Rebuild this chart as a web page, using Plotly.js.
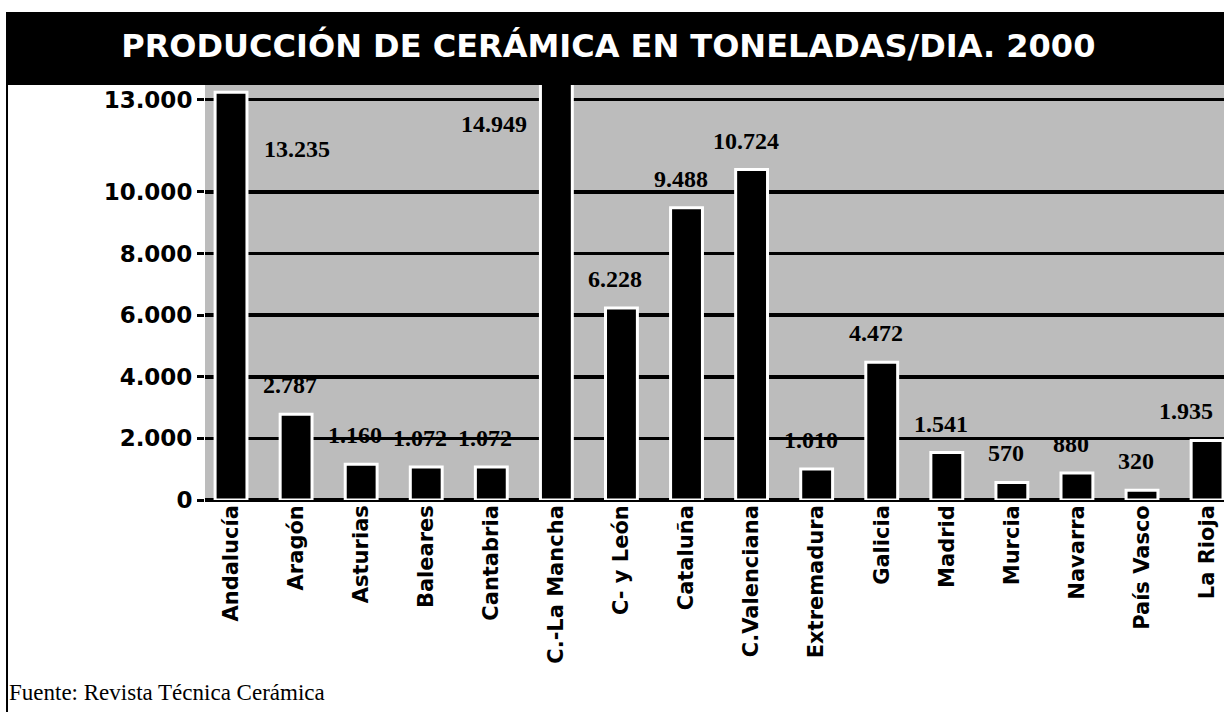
<!DOCTYPE html>
<html>
<head>
<meta charset="utf-8">
<script src="https://cdn.plot.ly/plotly-3.0.1.min.js"></script>
<style>
  html, body { margin: 0; padding: 0; background: #ffffff; }
  #chart { width: 1224px; height: 712px; }
</style>
</head>
<body>
<div id="chart"></div>
<script>
// ---- data ----
const categories = ["Andalucía", "Aragón", "Asturias", "Baleares", "Cantabria", "C.-La Mancha",
  "C- y León", "Cataluña", "C.Valenciana", "Extremadura", "Galicia", "Madrid",
  "Murcia", "Navarra", "País Vasco", "La Rioja"];
const values = [13235, 2787, 1160, 1072, 1072, 14949, 6228, 9488, 10724, 1010, 4472, 1541, 570, 880, 320, 1935];
const yTickValues = [0, 2000, 4000, 6000, 8000, 10000, 13000];
const chartTitle = "PRODUCCIÓN DE CERÁMICA EN TONELADAS/DIA. 2000";
const sourceNote = "Fuente: Revista Técnica Cerámica";

// ---- helpers ----
const fmt = v => v.toLocaleString("de-DE"); // 13235 -> "13.235"
const Y_MAX = 13470;
const SANS = "DejaVu Sans, Open Sans, sans-serif";
const SERIF = "Liberation Serif, Times New Roman, serif";

const trace = {
  type: "bar",
  x: categories,
  y: values,
  width: 0.49,
  marker: { color: "#000000", line: { color: "#ffffff", width: 3 } },
  hoverinfo: "x+y"
};

// value labels drawn from the data
const labelFont = { family: SERIF, size: 24, color: "#000000", weight: 700 };
const lastIdx = categories.length - 1;
const annotations = categories.map((c, i) => {
  const v = values[i];
  if (v > 13000) {
    // tall bars: label placed beside the bar, as in the original
    const right = i === 0;
    return {
      x: c, y: right ? 11400 : 12200, xref: "x", yref: "y",
      xshift: right ? 66 : -62, text: fmt(v), showarrow: false, font: labelFont
    };
  }
  const isLast = i === lastIdx;
  return {
    x: c, y: v, xref: "x", yref: "y", yanchor: "bottom", yshift: 14,
    xanchor: isLast ? "right" : "center", xshift: isLast ? 8 : -6,
    text: fmt(v), showarrow: false, font: labelFont
  };
});

// source note
annotations.push({
  xref: "paper", yref: "paper", x: -0.194, y: -0.465, xanchor: "left", yanchor: "middle",
  text: sourceNote, showarrow: false,
  font: { family: SERIF, size: 23, color: "#000000" }
});

const layout = {
  width: 1224, height: 712,
  margin: { l: 205, r: 0, t: 85, b: 212 },
  paper_bgcolor: "#ffffff",
  plot_bgcolor: "#bcbcbc",
  separators: ",.",
  showlegend: false,
  bargap: 0.5,
  title: {
    text: chartTitle,
    x: 0.497, xanchor: "center",
    y: 1 - 46 / 712, yanchor: "middle", yref: "container",
    font: { family: SANS, size: 32, color: "#ffffff", weight: 700 }
  },
  xaxis: {
    type: "category",
    range: [-0.4, 15.26],
    tickangle: -90,
    tickfont: { family: SANS, size: 21, color: "#000000", weight: 700 },
    showline: false,
    ticks: "",
    showgrid: false,
    fixedrange: true
  },
  yaxis: {
    range: [0, Y_MAX],
    tickvals: yTickValues,
    ticktext: yTickValues.map(fmt),
    tickfont: { family: SANS, size: 23, color: "#000000", weight: 700 },
    ticks: "outside", ticklen: 7, tickwidth: 3, tickcolor: "#000000",
    showgrid: true, gridcolor: "#000000", gridwidth: 3.5,
    zeroline: true, zerolinecolor: "#000000", zerolinewidth: 3.5,
    showline: false,
    fixedrange: true
  },
  shapes: [
    // black title band
    { type: "rect", xref: "paper", yref: "paper", x0: -0.1943, x1: 1.01, y0: 1.0, y1: 1.176,
      fillcolor: "#000000", line: { width: 0 }, layer: "above" },
    // left frame line
    { type: "line", xref: "paper", yref: "paper", x0: -0.1943, x1: -0.1943, y0: 1.176, y1: -0.52,
      line: { color: "#000000", width: 2 } }
  ],
  annotations: annotations
};

Plotly.newPlot("chart", [trace], layout, { displayModeBar: false, staticPlot: true });
</script>
</body>
</html>
